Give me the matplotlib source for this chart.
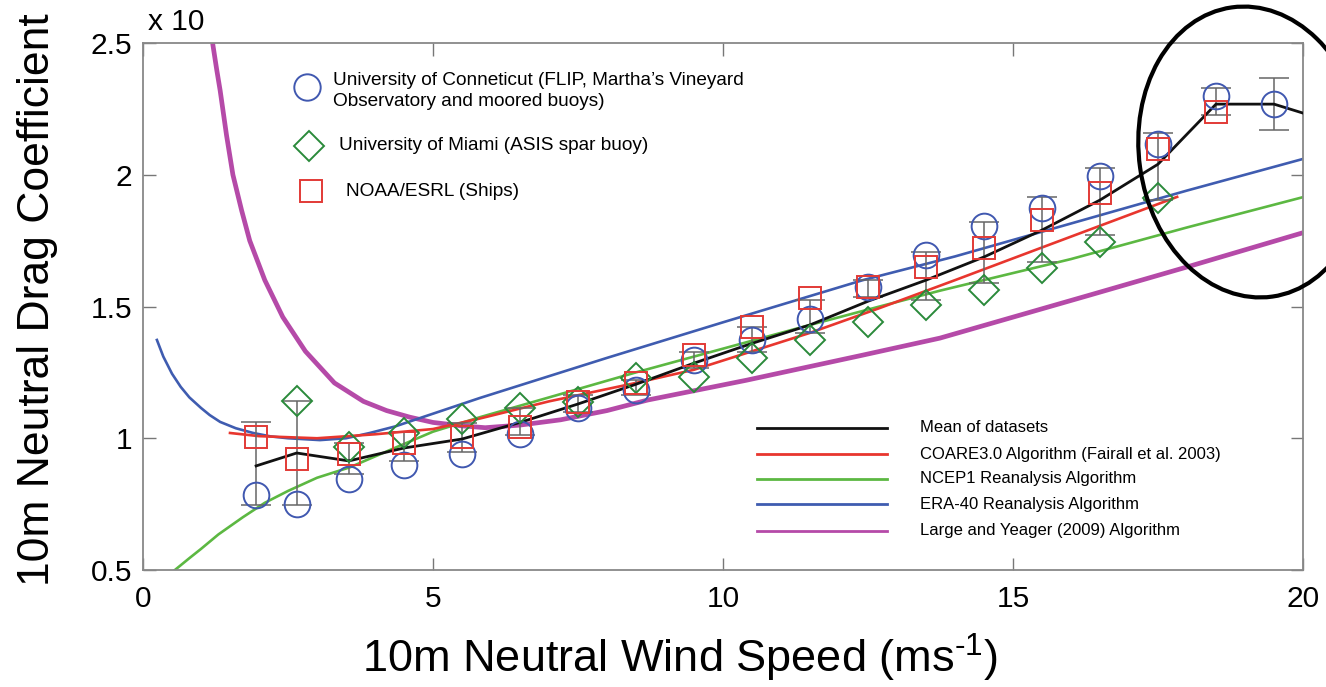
import matplotlib
matplotlib.use("Agg")
import matplotlib.pyplot as plt
from matplotlib.patches import Ellipse
from matplotlib.lines import Line2D

plt.rcParams['font.family'] = ['Liberation Sans', 'DejaVu Sans']
plt.rcParams['mathtext.fontset'] = 'custom'
plt.rcParams['mathtext.rm'] = 'Liberation Sans'
plt.rcParams['mathtext.it'] = 'Liberation Sans'

# ---- data ----
bins = [1.95, 2.65, 3.55, 4.5, 5.5, 6.5, 7.5, 8.5, 9.5, 10.5, 11.5, 12.5,
        13.5, 14.5, 15.5, 16.5, 17.5, 18.5, 19.5]
uconn = [0.785, 0.75, 0.845, 0.898, 0.94, 1.016, 1.115, 1.183, 1.297, 1.373,
         1.453, 1.574, 1.695, 1.805, 1.874, 1.995, 2.117, 2.30, 2.268]
noaa = [1.005, 0.921, 0.94, 0.982, 1.005, 1.043, 1.138, 1.21, 1.316, 1.422,
        1.532, 1.574, 1.65, 1.722, 1.828, 1.93, 2.098, 2.238]
miami_x = [2.65, 3.55, 4.5, 5.5, 6.5, 7.5, 8.5, 9.5, 10.5, 11.5, 12.5, 13.5,
           14.5, 15.5, 16.5, 17.5]
miami = [1.141, 0.967, 1.02, 1.073, 1.115, 1.138, 1.229, 1.232, 1.305, 1.373,
         1.441, 1.506, 1.563, 1.646, 1.745, 1.912]
mean_x = bins + [20.0]
mean_y = [0.895, 0.944, 0.914, 0.963, 0.997, 1.06, 1.13, 1.205, 1.285, 1.36,
          1.43, 1.52, 1.60, 1.688, 1.79, 1.904, 2.04, 2.268, 2.268, 2.234]
err_lo = [0.747, 0.747, 0.864, 0.914, 0.948, 1.012, 1.10, 1.164, 1.266, 1.327,
          1.40, 1.536, 1.525, 1.59, 1.67, 1.77, 1.904, 2.227, 2.17]
err_hi = [1.062, 1.141, 0.982, 1.024, 1.058, 1.115, 1.164, 1.221, 1.327, 1.422,
          1.525, 1.60, 1.707, 1.82, 1.916, 2.025, 2.158, 2.33, 2.367]

coare_x = [1.5, 2.0, 3.0, 4.0, 5.0, 5.81, 7.0, 8.5, 9.5, 11.5, 12.7, 14.0, 15.5, 17.83]
coare_y = [1.02, 1.008, 1.0, 1.015, 1.035, 1.075, 1.14, 1.21, 1.26, 1.40, 1.494, 1.60, 1.724, 1.916]
ncep_x = [0.55, 0.8, 1.0, 1.3, 1.72, 2.1, 2.5, 3.0, 3.57, 4.38, 5.0, 5.81, 7.0, 8.5, 10.0, 11.5, 12.7, 13.74, 16.0, 18.0, 20.0]
ncep_y = [0.5, 0.545, 0.58, 0.635, 0.70, 0.755, 0.80, 0.85, 0.89, 0.967, 1.025, 1.08, 1.155, 1.25, 1.34, 1.43, 1.50, 1.56, 1.68, 1.80, 1.915]
era_x = [0.24, 0.35, 0.5, 0.65, 0.8, 1.0, 1.15, 1.33, 1.6, 1.9, 2.2, 2.5, 3.05, 3.5, 3.91, 4.35, 4.78, 5.81, 8.0, 10.0, 12.41, 14.0, 16.0, 18.0, 20.0]
era_y = [1.373, 1.31, 1.245, 1.195, 1.155, 1.115, 1.088, 1.062, 1.038, 1.02, 1.007, 1.0, 0.993, 1.0, 1.02, 1.045, 1.077, 1.153, 1.305, 1.44, 1.60, 1.69, 1.815, 1.94, 2.06]
ly_x = [1.2, 1.27, 1.33, 1.44, 1.55, 1.7, 1.84, 2.1, 2.41, 2.8, 3.3, 3.8, 4.2, 4.6, 5.0, 5.5, 5.9, 6.5, 7.2, 8.0, 8.7, 10.4, 12.4, 13.74, 16.35, 18.0, 20.0]
ly_y = [2.5, 2.4, 2.32, 2.15, 2.0, 1.865, 1.75, 1.6, 1.46, 1.33, 1.21, 1.14, 1.105, 1.08, 1.06, 1.047, 1.04, 1.05, 1.07, 1.105, 1.145, 1.22, 1.315, 1.38, 1.545, 1.65, 1.78]

xticks = [0, 5, 10, 15, 20]
yticks = [0.5, 1, 1.5, 2, 2.5]
yticklabels = ['0.5', '1', '1.5', '2', '2.5']

C_BLACK = '#111111'
C_RED = '#e8362e'
C_GREEN = '#5cb842'
C_BLUE = '#3f5cb0'
C_MAG = '#b54aa8'
C_CIRC = '#4058b0'
C_DIAM = '#2a8a3a'
C_SQ = '#e23a36'

# ---- figure ----
W, H = 1326, 687
fig = plt.figure(figsize=(W / 100, H / 100), dpi=100)
ax = fig.add_axes([143 / W, 1 - 570 / H, (1303 - 143) / W, (570 - 43) / H])

ax.plot(ly_x, ly_y, color=C_MAG, lw=3.4, zorder=2, solid_capstyle='butt')
ax.plot(era_x, era_y, color=C_BLUE, lw=1.9, zorder=2)
ax.plot(ncep_x, ncep_y, color=C_GREEN, lw=1.9, zorder=2)
ax.plot(coare_x, coare_y, color=C_RED, lw=1.9, zorder=3)

err_mid = [(a + b) / 2 for a, b in zip(err_lo, err_hi)]
ax.errorbar(bins, err_mid,
            yerr=[[m - a for m, a in zip(err_mid, err_lo)],
                  [b - m for m, b in zip(err_mid, err_hi)]],
            fmt='none', ecolor='#666666', elinewidth=1.1, capsize=10.5, capthick=1.1, zorder=4)

ax.plot(mean_x, mean_y, color=C_BLACK, lw=2.0, zorder=5)

ax.plot(bins, uconn, ls='none', marker='o', ms=18.5, mfc='none', mec=C_CIRC, mew=1.4, zorder=6)
ax.plot(miami_x, miami, ls='none', marker='D', ms=15, mfc='none', mec=C_DIAM, mew=1.4, zorder=6)
ax.plot(bins[:len(noaa)], noaa, ls='none', marker='s', ms=16, mfc='none', mec=C_SQ, mew=1.4, zorder=6)

ax.set_xlim(0, 20)
ax.set_ylim(0.5, 2.5)
ax.set_xticks(xticks)
ax.set_yticks(yticks)
ax.set_yticklabels(yticklabels)
ax.tick_params(direction='in', length=9, width=1.0, color='#777777', labelsize=21.5,
               top=True, right=True)
ax.tick_params(axis='x', pad=11)
ax.tick_params(axis='y', pad=8)
for s in ax.spines.values():
    s.set_color('#888888')
    s.set_linewidth(1.3)

ax.set_xlabel('10m Neutral Wind Speed (ms$^{\\text{-1}}$)', fontsize=32.5, va='center')
ax.xaxis.set_label_coords((680 - 143) / 1160, (570 - 658) / 527)
ax.set_ylabel('10m Neutral Drag Coefficient', fontsize=32, va='center')
ax.yaxis.set_label_coords((38 - 143) / 1160, (570 - 300) / 527)
fig.text(148 / W, 1 - 22 / H, 'x 10', fontsize=21.5, ha='left', va='center')

# ---- legend (upper left) ----
def axfrac(px, py):
    return ((px - 143) / 1160, (570 - py) / 527)

for (px, py), mk, ms, col in [((307, 87), 'o', 19, C_CIRC), ((309, 146), 'D', 15, C_DIAM),
                              ((311, 191), 's', 16, C_SQ)]:
    ax.plot(*axfrac(px, py), transform=ax.transAxes, marker=mk, ms=ms, mfc='none',
            mec=col, mew=1.4, ls='none', clip_on=False, zorder=7)
ax.text(*axfrac(333, 91), 'University of Conneticut (FLIP, Martha\u2019s Vineyard\nObservatory and moored buoys)',
        transform=ax.transAxes, fontsize=13.7, ha='left', va='center', linespacing=1.3)
ax.text(*axfrac(339, 146), 'University of Miami (ASIS spar buoy)', transform=ax.transAxes,
        fontsize=13.7, ha='left', va='center')
ax.text(*axfrac(346, 191), 'NOAA/ESRL (Ships)', transform=ax.transAxes,
        fontsize=13.7, ha='left', va='center')

# ---- legend (lower right) ----
names = ['Mean of datasets', 'COARE3.0 Algorithm (Fairall et al. 2003)',
         'NCEP1 Reanalysis Algorithm', 'ERA-40 Reanalysis Algorithm',
         'Large and Yeager (2009) Algorithm']
cols = [C_BLACK, C_RED, C_GREEN, C_BLUE, C_MAG]
rows = [428, 454, 479, 504, 531]
for name, col, py in zip(names, cols, rows):
    x0, y0 = axfrac(757, py)
    x1, _ = axfrac(887, py)
    ax.add_line(Line2D([x0, x1], [y0, y0], transform=ax.transAxes, color=col, lw=2.0, zorder=7))
    ax.text(*axfrac(920, py), name, transform=ax.transAxes, fontsize=12, ha='left', va='center')

# ---- hand-drawn ellipse annotation ----
ell = Ellipse((1252 / 100, (H - 152) / 100), 2.26, 2.92, angle=8,
              transform=fig.dpi_scale_trans, fill=False, ec='black', lw=3.0, clip_on=False)
fig.add_artist(ell)

fig.savefig('out.png', dpi=100, facecolor='white')
